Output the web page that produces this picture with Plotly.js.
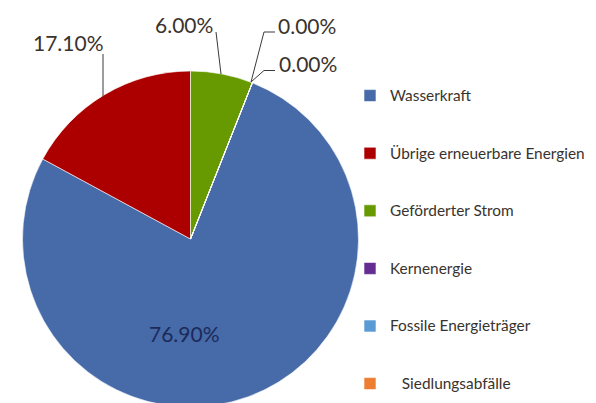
<!DOCTYPE html>
<html>
<head>
<meta charset="utf-8">
<script src="https://cdn.plot.ly/plotly-3.0.1.min.js"></script>
<style>
html,body{margin:0;padding:0;overflow:hidden;background:#fff;}
#chart{width:596px;height:440px;}
</style>
</head>
<body>
<div id="chart"></div>
<script>
const labels = ['Wasserkraft', 'Übrige erneuerbare Energien', 'Geförderter Strom', 'Kernenergie', 'Fossile Energieträger', '\u00a0\u00a0\u00a0Siedlungsabfälle'];
const values = [76.9, 17.1, 6.0, 0, 0, 0];
const colors = ['#466BA8', '#AC0000', '#669A00', '#652D91', '#5B9BD5', '#ED7D31'];

const W = 596, H = 440;
const X = p => p / W;
const Y = p => 1 - p / H;
const fmt = v => v.toFixed(2) + '%';
const FONT = 'Lato, "Noto Sans", sans-serif';
const TXT = '#3a332d';

// legend text: label on the middle of three lines to space entries like the reference
const legendText = labels.map(l => ' <br><span style="font-size:15.4px">' + l + '</span><br> ');

const trace = {
  type: 'pie',
  labels: legendText,
  values: values,
  sort: false,
  direction: 'clockwise',
  rotation: 21.6,
  marker: {colors: colors, line: {color: '#ffffff', width: 0.6}},
  textinfo: 'none',
  hoverinfo: 'none',
  domain: {x: [X(22.5), X(358.5)], y: [Y(407), Y(71)]},
  showlegend: true
};

const lbl = (i, cx, cy, color) => ({
  text: fmt(values[i]), xref: 'paper', yref: 'paper', x: X(cx), y: Y(cy),
  xanchor: 'center', yanchor: 'middle', showarrow: false,
  font: {family: FONT, size: 21, color: color || TXT}
});

const line = d => ({type: 'path', xref: 'paper', yref: 'paper', path: d, line: {color: '#3a3a3a', width: 1}});
const P = (x, y) => X(x) + ',' + Y(y);

const layout = {
  width: W, height: H,
  margin: {l: 0, r: 0, t: 0, b: 0},
  paper_bgcolor: '#ffffff',
  font: {family: FONT, color: TXT},
  showlegend: true,
  legend: {
    x: X(350), y: Y(61.8), xanchor: 'left', yanchor: 'top',
    font: {family: FONT, size: 14, color: TXT},
    bgcolor: 'rgba(0,0,0,0)', tracegroupgap: 0, valign: 'middle'
  },
  annotations: [
    lbl(1, 68, 42),
    lbl(2, 184, 25),
    lbl(3, 307, 26),
    lbl(4, 308, 63),
    lbl(0, 184, 333, '#1c2a5a')
  ],
  shapes: [
    line('M' + P(103, 54) + 'L' + P(103, 97)),
    line('M' + P(216, 32) + 'L' + P(221, 74)),
    line('M' + P(275, 32) + 'L' + P(264, 32) + 'L' + P(251, 82)),
    line('M' + P(275, 70.5) + 'L' + P(264, 70.5) + 'L' + P(251, 82))
  ]
};

Plotly.newPlot('chart', [trace], layout, {displayModeBar: false, staticPlot: true});
</script>
</body>
</html>
